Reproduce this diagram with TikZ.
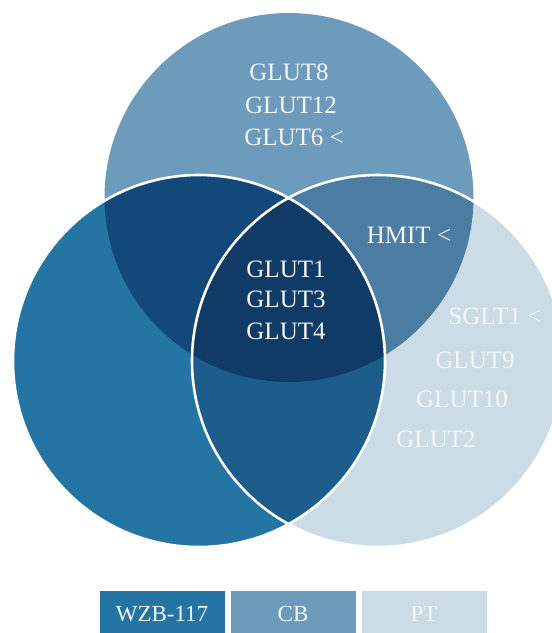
\documentclass[tikz,border=0pt]{standalone}
\usepackage{fontspec}
\setmainfont{Liberation Serif}
\definecolor{cTop}{HTML}{6D9BBB}
\definecolor{cL}{HTML}{2474A4}
\definecolor{cR}{HTML}{CBDCE6}
\definecolor{cTL}{HTML}{13497A}
\definecolor{cTR}{HTML}{4B7CA1}
\definecolor{cLR}{HTML}{1C5D8C}
\definecolor{cAll}{HTML}{0F3B66}
\definecolor{txt}{HTML}{F4F6F8}
\tikzset{
  lab/.style={text=txt, font=\fontsize{25}{25}\selectfont, inner sep=0pt, anchor=base},
  legbox/.style={text=txt, font=\fontsize{23}{23}\selectfont, inner sep=0pt,
     minimum width=125pt, minimum height=44pt, anchor=north, text height=16pt, text depth=0pt},
  sep/.style={draw=white, line width=2.6pt}
}
\begin{document}
\begin{tikzpicture}[x=1pt,y=-1pt]
\useasboundingbox (0,0) rectangle (552,633);
\coordinate (T) at (289,197.5);
\coordinate (L) at (199,361);
\coordinate (R) at (378,361);
% base fills
\fill[cTop] (T) circle (184.5pt);
\fill[cL] (L) circle (186pt);
\fill[cR] (R) circle (186pt);
% pairwise overlaps
\begin{scope}
  \clip (T) circle (184.5pt);
  \fill[cTL] (L) circle (186pt);
  \fill[cTR] (R) circle (186pt);
\end{scope}
\begin{scope}
  \clip (L) circle (186pt);
  \fill[cLR] (R) circle (186pt);
\end{scope}
\begin{scope}
  \clip (T) circle (184.5pt);
  \clip (L) circle (186pt);
  \fill[cAll] (R) circle (186pt);
\end{scope}
% white separating arcs
\draw[sep] (L) circle (186pt);
\draw[sep] (R) circle (186pt);
% labels
\node[lab] (g8) at (289,80) {GLUT8};
\node[lab] (g12) at (291,113) {GLUT12};
\node[lab] (g6) at (294,145) {GLUT6 <};
\node[lab] (hmit) at (409,243) {HMIT <};
\node[lab] (g1) at (286,277) {GLUT1};
\node[lab] (g3) at (286,307) {GLUT3};
\node[lab] (g4) at (286,339) {GLUT4};
\node[lab] (sglt) at (495,324) {SGLT1 <};
\node[lab] (g9) at (475,368) {GLUT9};
\node[lab] (g10) at (462,407) {GLUT10};
\node[lab] (g2) at (436,447) {GLUT2};
% legend
\node[legbox, fill=cL] (lw) at (162,591) {WZB-117};
\node[legbox, fill=cTop] (lc) at (293,591) {CB};
\node[legbox, fill=cR] (lp) at (424,591) {PT};
\end{tikzpicture}
\end{document}
